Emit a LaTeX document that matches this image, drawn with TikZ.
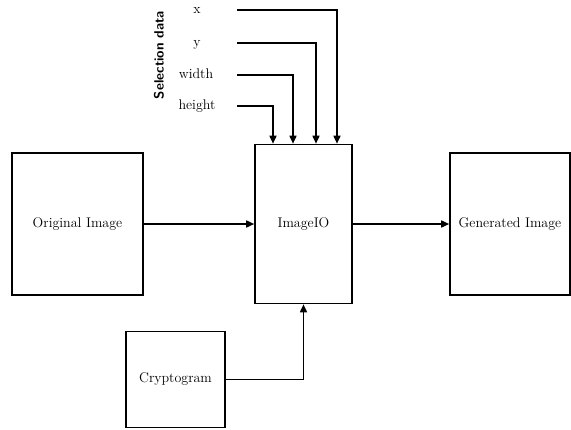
\documentclass[tikz,border=0pt]{standalone}
\usetikzlibrary{arrows.meta}
\begin{document}
\begin{tikzpicture}[x=1pt,y=-1pt,
  box/.style={draw, line width=1.6pt, inner sep=0pt, font=\fontsize{14}{16}\selectfont},
  lbl/.style={anchor=base, inner sep=0pt, font=\fontsize{14}{16}\selectfont},
  conn/.style={line width=1.6pt},
  arr/.style={line width=1.6pt, -{Triangle[length=8pt,width=7pt]}}]
\useasboundingbox (0,0) rectangle (571,429);
\node[box, minimum width=131pt, minimum height=142pt] (orig) at (77.5,224) {Original Image};
\node[box, minimum width=97pt, minimum height=159pt] (io) at (303.5,224) {ImageIO};
\node[box, minimum width=120pt, minimum height=142pt] (gen) at (510,224) {Generated Image};
\node[box, minimum width=99pt, minimum height=96pt] (crypt) at (175.5,379.5) {Cryptogram};
\node[lbl] (lx) at (197,13) {x};
\node[lbl] (ly) at (197,46) {y};
\node[lbl] (lw) at (196,78) {width};
\node[lbl] (lh) at (197,109) {height};
\node[inner sep=0pt, rotate=90, font=\sffamily\bfseries\fontsize{13.5}{15}\selectfont] (sel) at (159,55) {Selection data};
\coordinate (cx) at (237,10);
\coordinate (cy) at (237,43);
\coordinate (cw) at (237,75);
\coordinate (ch) at (237,106);
\draw[arr] (cx) -| ([xshift=33.5pt]io.north);
\draw[arr] (cy) -| ([xshift=12.5pt]io.north);
\draw[arr] (cw) -| ([xshift=-10.5pt]io.north);
\draw[arr] (ch) -| ([xshift=-30.5pt]io.north);
\draw[arr] (orig.east) -- (io.west);
\draw[arr] (io.east) -- (gen.west);
\draw[arr] (crypt.east) -| (io.south);
\end{tikzpicture}
\end{document}
